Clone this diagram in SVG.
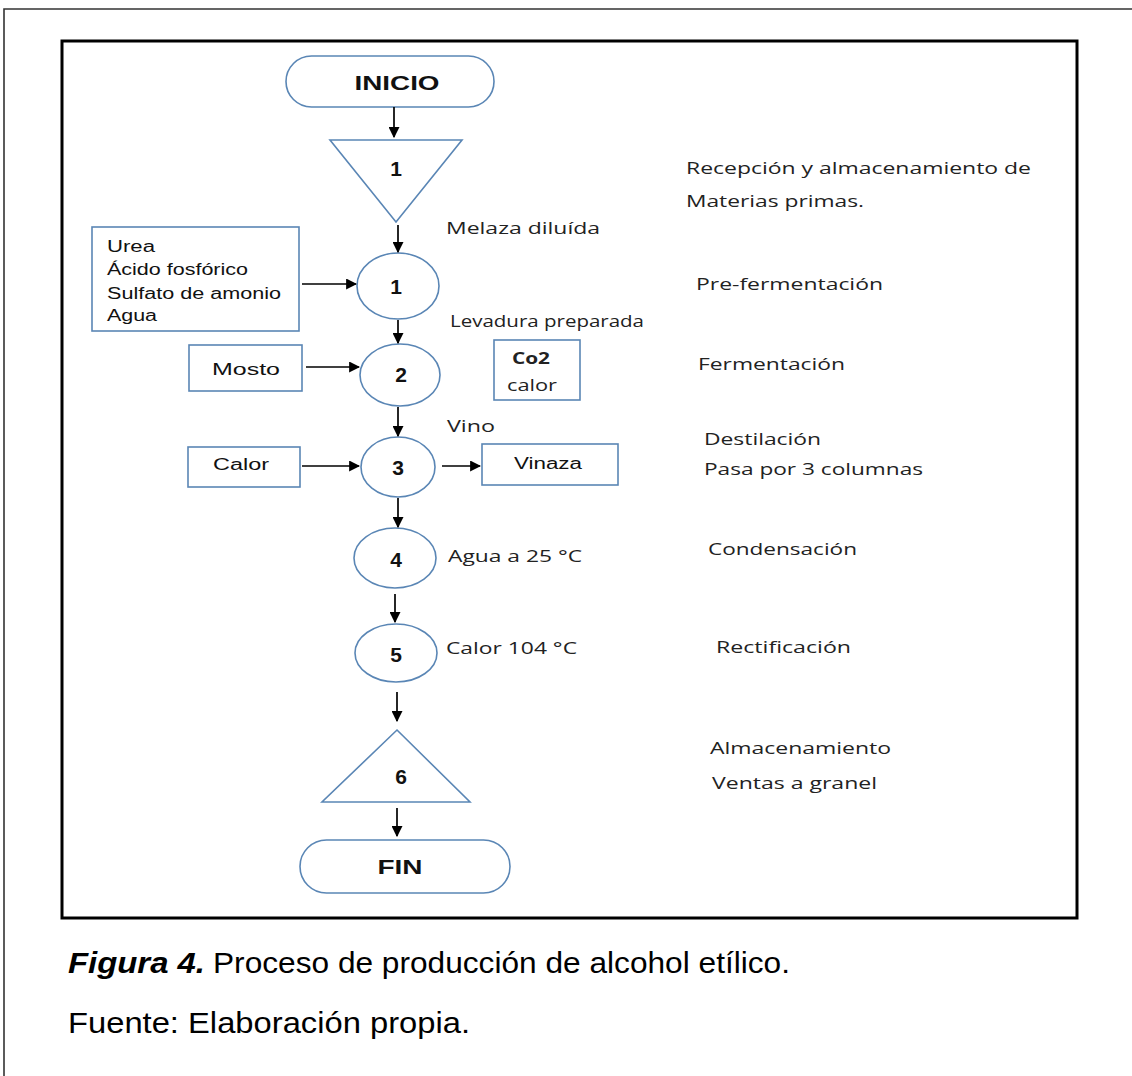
<svg xmlns="http://www.w3.org/2000/svg" width="1132" height="1076" viewBox="0 0 1132 1076">
<style>
.shape{fill:#fff;stroke:#5a86b5;stroke-width:1.6}
.conn{stroke:#000;stroke-width:1.7;fill:none;marker-end:url(#ah)}
.num{font-family:"Liberation Sans",Arial,sans-serif;font-weight:bold;font-size:21px;text-anchor:middle;fill:#111}
.lab{font-family:"Open Sans","Noto Sans",sans-serif;font-size:16px;fill:#222}
.box{font-family:"Liberation Sans",Arial,sans-serif;font-size:16px;fill:#111}
.cap{font-family:"Liberation Sans",Arial,sans-serif;font-size:29px;fill:#000}
</style>
<defs>
<marker id="ah" viewBox="0 0 10 10" refX="9" refY="5" markerWidth="11" markerHeight="11" markerUnits="userSpaceOnUse" orient="auto"><path d="M0,0 L10,5 L0,10 z" fill="#000"/></marker>
</defs>
<rect width="1132" height="1076" fill="#fff"/>
<path d="M4,1076 V9 H1132" fill="none" stroke="#333" stroke-width="1.6"/>
<rect x="62" y="41" width="1015" height="877" fill="none" stroke="#000" stroke-width="3"/>

<g id="inicio">
<rect class="shape" x="286" y="56" width="208" height="51" rx="25.5"/>
<text class="num" x="397" y="90" font-size="22" textLength="85" lengthAdjust="spacingAndGlyphs">INICIO</text>
</g>
<g id="almacen1">
<polygon class="shape" points="330,140 462,140 396,222"/>
<text class="num" x="396" y="176">1</text>
</g>
<g id="paso1">
<ellipse class="shape" cx="398" cy="286" rx="41" ry="33"/>
<text class="num" x="396" y="294">1</text>
</g>
<g id="insumos">
<rect class="shape" x="92" y="227" width="207" height="104"/>
<text class="box" x="107" y="252" textLength="48" lengthAdjust="spacingAndGlyphs">Urea</text>
<text class="box" x="107" y="275" textLength="141" lengthAdjust="spacingAndGlyphs">Ácido fosfórico</text>
<text class="box" x="107" y="299" textLength="174" lengthAdjust="spacingAndGlyphs">Sulfato de amonio</text>
<text class="box" x="107" y="321" textLength="50" lengthAdjust="spacingAndGlyphs">Agua</text>
</g>
<g id="paso2">
<ellipse class="shape" cx="400" cy="375" rx="40" ry="31"/>
<text class="num" x="401" y="382">2</text>
</g>
<g id="mosto">
<rect class="shape" x="189" y="345" width="113" height="46"/>
<text class="box" x="246" y="375" text-anchor="middle" textLength="68" lengthAdjust="spacingAndGlyphs">Mosto</text>
</g>
<g id="co2">
<rect class="shape" x="494" y="340" width="86" height="60"/>
<text class="lab" x="531" y="364" text-anchor="middle" font-weight="bold" textLength="38" lengthAdjust="spacingAndGlyphs">Co2</text>
<text class="lab" x="532" y="391" text-anchor="middle" textLength="50" lengthAdjust="spacingAndGlyphs">calor</text>
</g>
<g id="paso3">
<ellipse class="shape" cx="398" cy="467" rx="37" ry="30"/>
<text class="num" x="398" y="475">3</text>
</g>
<g id="calor">
<rect class="shape" x="188" y="447" width="112" height="40"/>
<text class="box" x="241" y="470" text-anchor="middle" textLength="56" lengthAdjust="spacingAndGlyphs">Calor</text>
</g>
<g id="vinaza">
<rect class="shape" x="482" y="444" width="136" height="41"/>
<text class="box" x="548" y="469" text-anchor="middle" textLength="68" lengthAdjust="spacingAndGlyphs">Vinaza</text>
</g>
<g id="paso4">
<ellipse class="shape" cx="395" cy="558" rx="41" ry="30"/>
<text class="num" x="396" y="567">4</text>
</g>
<g id="paso5">
<ellipse class="shape" cx="396" cy="653" rx="41" ry="29"/>
<text class="num" x="396" y="662">5</text>
</g>
<g id="almacen6">
<polygon class="shape" points="397,730 470,802 322,802"/>
<text class="num" x="401" y="784">6</text>
</g>
<g id="fin">
<rect class="shape" x="300" y="840" width="210" height="53" rx="26.5"/>
<text class="num" x="400" y="874" font-size="22" textLength="45" lengthAdjust="spacingAndGlyphs">FIN</text>
</g>

<g id="connectors">
<line class="conn" x1="394" y1="107" x2="394" y2="137"/>
<line class="conn" x1="398" y1="225" x2="398" y2="252"/>
<line class="conn" x1="302" y1="284" x2="356" y2="284"/>
<line class="conn" x1="398" y1="320" x2="398" y2="343"/>
<line class="conn" x1="306" y1="367" x2="359" y2="367"/>
<line class="conn" x1="398" y1="407" x2="398" y2="436"/>
<line class="conn" x1="302" y1="466" x2="359" y2="466"/>
<line class="conn" x1="442" y1="466" x2="480" y2="466"/>
<line class="conn" x1="398" y1="498" x2="398" y2="527"/>
<line class="conn" x1="395" y1="594" x2="395" y2="622"/>
<line class="conn" x1="397" y1="692" x2="397" y2="721"/>
<line class="conn" x1="397" y1="808" x2="397" y2="836"/>
</g>

<g id="labels">
<text class="lab" x="686" y="174" textLength="345" lengthAdjust="spacingAndGlyphs">Recepción y almacenamiento de</text>
<text class="lab" x="686" y="207" textLength="178" lengthAdjust="spacingAndGlyphs">Materias primas.</text>
<text class="lab" x="446" y="234" textLength="154" lengthAdjust="spacingAndGlyphs">Melaza diluída</text>
<text class="lab" x="696" y="290" textLength="187" lengthAdjust="spacingAndGlyphs">Pre-fermentación</text>
<text class="lab" x="450" y="327" textLength="194" lengthAdjust="spacingAndGlyphs">Levadura preparada</text>
<text class="lab" x="698" y="370" textLength="147" lengthAdjust="spacingAndGlyphs">Fermentación</text>
<text class="lab" x="447" y="432" textLength="48" lengthAdjust="spacingAndGlyphs">Vino</text>
<text class="lab" x="704" y="445" textLength="117" lengthAdjust="spacingAndGlyphs">Destilación</text>
<text class="lab" x="704" y="475" textLength="219" lengthAdjust="spacingAndGlyphs">Pasa por 3 columnas</text>
<text class="lab" x="448" y="562" textLength="134" lengthAdjust="spacingAndGlyphs">Agua a 25 °C</text>
<text class="lab" x="708" y="555" textLength="149" lengthAdjust="spacingAndGlyphs">Condensación</text>
<text class="lab" x="446" y="654" textLength="131" lengthAdjust="spacingAndGlyphs">Calor 104 °C</text>
<text class="lab" x="716" y="653" textLength="135" lengthAdjust="spacingAndGlyphs">Rectificación</text>
<text class="lab" x="710" y="754" textLength="181" lengthAdjust="spacingAndGlyphs">Almacenamiento</text>
<text class="lab" x="712" y="789" textLength="165" lengthAdjust="spacingAndGlyphs">Ventas a granel</text>
</g>

<g id="caption">
<text class="cap" x="68" y="973" font-weight="bold" font-style="italic" textLength="137" lengthAdjust="spacingAndGlyphs">Figura 4.</text>
<text class="cap" x="213" y="973" textLength="577" lengthAdjust="spacingAndGlyphs">Proceso de producción de alcohol etílico.</text>
<text class="cap" x="68" y="1033" textLength="402" lengthAdjust="spacingAndGlyphs">Fuente: Elaboración propia.</text>
</g>
</svg>
